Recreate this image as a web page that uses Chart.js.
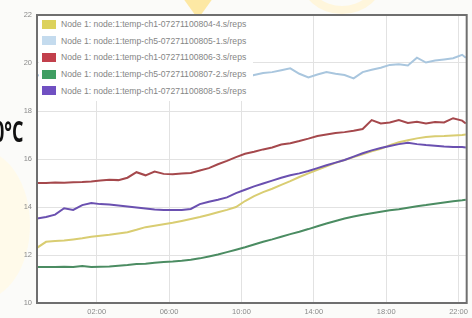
<!DOCTYPE html>
<html>
<head>
<meta charset="utf-8">
<script src="https://cdn.jsdelivr.net/npm/chart.js@4/dist/chart.umd.min.js"></script>
<style>
    html, body { margin: 0; padding: 0; }
    body {
        width: 472px; height: 318px; overflow: hidden; position: relative;
        background: #fbfbf9; font-family: 'Liberation Sans', Arial, sans-serif;
    }
    .mark { position: absolute; }
    #mark-top { left: 180px; top: -6px; width: 36px; height: 20px; background: #fde8a4;
                clip-path: polygon(0 0, 100% 0, 60% 100%, 40% 100%); }
    #mark-arc { left: 300px; top: -60px; width: 84px; height: 74px; border-radius: 50%;
                border: 8px solid #fff6dc; box-sizing: border-box; }
    #mark-left { left: -70px; top: 150px; width: 100px; height: 150px; border-radius: 50%;
                 background: #fffaea; }
    #chart-wrap { position: absolute; left: 0; top: 0; width: 472px; height: 318px; }
    #unit {
        position: absolute; right: 449px; top: 111px; white-space: nowrap;
        font: bold 29px 'Open Sans', sans-serif; color: #111;
        transform: scaleX(0.62); transform-origin: right center;
    }
    #legend {
        position: absolute; left: 39px; top: 16px; width: 214px; height: 85px;
        background: #fff;
    }
    .leg-row { position: absolute; left: 3px; height: 10px; display: flex; align-items: center; }
    .leg-box { width: 14px; height: 9px; margin-right: 5px; }
    .leg-text { font-size: 8.6px; color: #858585; white-space: nowrap; }
</style>
</head>
<body>
<div class="mark" id="mark-top"></div>
<div class="mark" id="mark-arc"></div>
<div class="mark" id="mark-left"></div>
<div id="chart-wrap"><canvas id="chart-temp" width="472" height="318"></canvas></div>
<div id="legend"></div>
<div id="unit">0°C</div>
<script>
// hours since midnight (negative = previous evening)
const HOURS = [-1.3, -0.8, -0.3, 0.2, 0.7, 1.2, 1.7, 2.2, 2.7, 3.2, 3.7, 4.2, 4.7, 5.2, 5.7, 6.2,
    6.7, 7.2, 7.7, 8.2, 8.7, 9.2, 9.7, 10.2, 10.7, 11.2, 11.7, 12.2, 12.7, 13.2, 13.7, 14.2,
    14.7, 15.2, 15.7, 16.2, 16.7, 17.2, 17.7, 18.2, 18.7, 19.2, 19.7, 20.2, 20.7, 21.2, 21.7, 22.2, 22.4];

const TEMP_804 = [12.30, 12.55, 12.58, 12.60, 12.65, 12.70, 12.76, 12.80, 12.84, 12.90, 12.95, 13.05,
    13.16, 13.22, 13.28, 13.34, 13.42, 13.50, 13.58, 13.68, 13.78, 13.88, 14.00, 14.25, 14.45, 14.62,
    14.76, 14.92, 15.08, 15.25, 15.40, 15.55, 15.70, 15.84, 15.96, 16.08, 16.20, 16.32, 16.42, 16.58,
    16.70, 16.78, 16.86, 16.92, 16.95, 16.96, 16.98, 17.00, 17.02];

const TEMP_805 = [19.48, 19.52, 19.46, 19.55, 19.50, 19.44, 19.52, 19.58, 19.50, 19.47, 19.55, 19.60,
    19.52, 19.48, 19.56, 19.50, 19.45, 19.53, 19.58, 19.50, 19.46, 19.52, 19.55, 19.40, 19.50, 19.58,
    19.62, 19.70, 19.78, 19.55, 19.40, 19.52, 19.62, 19.55, 19.50, 19.36, 19.62, 19.72, 19.80, 19.92,
    19.95, 19.90, 20.22, 20.02, 20.10, 20.15, 20.20, 20.34, 20.22];

const TEMP_806 = [15.00, 15.00, 15.02, 15.01, 15.03, 15.04, 15.06, 15.10, 15.14, 15.12, 15.22, 15.45,
    15.32, 15.48, 15.38, 15.36, 15.40, 15.42, 15.52, 15.62, 15.78, 15.92, 16.08, 16.22, 16.30, 16.40,
    16.48, 16.60, 16.66, 16.75, 16.85, 16.96, 17.02, 17.08, 17.12, 17.18, 17.25, 17.62, 17.48, 17.52,
    17.62, 17.50, 17.55, 17.48, 17.54, 17.52, 17.70, 17.60, 17.48];

const TEMP_807 = [11.50, 11.50, 11.50, 11.51, 11.50, 11.54, 11.50, 11.51, 11.52, 11.55, 11.58, 11.62,
    11.64, 11.68, 11.71, 11.73, 11.76, 11.80, 11.86, 11.94, 12.02, 12.12, 12.22, 12.32, 12.44, 12.55,
    12.65, 12.76, 12.87, 12.97, 13.08, 13.20, 13.31, 13.42, 13.52, 13.60, 13.68, 13.74, 13.80, 13.86,
    13.91, 13.97, 14.03, 14.08, 14.14, 14.19, 14.24, 14.28, 14.30];

const TEMP_808 = [13.52, 13.58, 13.68, 13.95, 13.88, 14.08, 14.17, 14.12, 14.10, 14.06, 14.02, 13.98,
    13.94, 13.90, 13.88, 13.87, 13.88, 13.92, 14.12, 14.22, 14.30, 14.40, 14.58, 14.72, 14.86, 14.98,
    15.10, 15.22, 15.32, 15.40, 15.50, 15.62, 15.74, 15.85, 15.96, 16.10, 16.24, 16.36, 16.46, 16.54,
    16.62, 16.68, 16.62, 16.58, 16.55, 16.52, 16.50, 16.50, 16.48];

const SERIES_NAMES = [
    'Node 1: node:1:temp-ch1-07271100804-4.s/reps',
    'Node 1: node:1:temp-ch5-07271100805-1.s/reps',
    'Node 1: node:1:temp-ch1-07271100806-3.s/reps',
    'Node 1: node:1:temp-ch5-07271100807-2.s/reps',
    'Node 1: node:1:temp-ch1-07271100808-5.s/reps',
];

const X_TICK_HOURS = [2, 6, 10, 14, 18, 22];
const X_TICK_LABELS = ['02:00', '06:00', '10:00', '14:00', '18:00', '22:00'];

const LINE_COLORS = ['#d9cd72', '#a9c6de', '#a5484c', '#4b8c62', '#6a50b0'];
const BOX_COLORS = ['#dcd25c', '#c4dbee', '#c2404c', '#3f9e62', '#7050c2'];

const SERIES = [TEMP_804, TEMP_805, TEMP_806, TEMP_807, TEMP_808];

// --- HTML legend inside the plot ---
const legend = document.getElementById('legend');
legend.innerHTML = SERIES_NAMES.map((name, i) => `
    <div class="leg-row" style="top:${3 + i * 16.7}px">
        <div class="leg-box" style="background:${BOX_COLORS[i]}"></div>
        <span class="leg-text">${name}</span>
    </div>
`).join('');

// --- white plot background + dark frame ---
const plotFrame = {
    id: 'plotFrame',
    beforeDraw(chart) {
        const { ctx, chartArea: a } = chart;
        ctx.save();
        ctx.fillStyle = 'rgba(255,255,255,0.9)';
        ctx.fillRect(a.left, a.top, a.right - a.left, a.bottom - a.top);
        ctx.restore();
    },
    afterDatasetsDraw(chart) {
        const { ctx, chartArea: a } = chart;
        ctx.save();
        ctx.strokeStyle = '#6f6f6f';
        ctx.lineWidth = 2;
        ctx.strokeRect(a.left, a.top, a.right - a.left, a.bottom - a.top);
        ctx.restore();
    }
};

new Chart(document.getElementById('chart-temp'), {
    type: 'line',
    data: {
        datasets: SERIES.map((vals, i) => ({
            label: SERIES_NAMES[i],
            data: vals.map((v, k) => ({ x: HOURS[k], y: v })),
            borderColor: LINE_COLORS[i],
            borderWidth: 2,
            pointRadius: 0,
            tension: 0,
            fill: false,
            order: i === 4 ? 0 : 1,
        }))
    },
    options: {
        responsive: false,
        animation: false,
        devicePixelRatio: 1,
        layout: { padding: { left: 0, top: 15, right: 4, bottom: 0 } },
        plugins: { legend: { display: false }, tooltip: { enabled: false } },
        scales: {
            x: {
                type: 'linear',
                min: -1.3,
                max: 22.45,
                afterFit: s => { s.height = 15; },
                afterBuildTicks: s => { s.ticks = X_TICK_HOURS.map(v => ({ value: v })); },
                grid: { color: '#e2e2e2', drawTicks: false },
                border: { display: false },
                ticks: {
                    padding: 4,
                    color: '#8a8a8a',
                    font: { family: 'Liberation Sans', size: 7.5 },
                    maxRotation: 0,
                    callback: v => X_TICK_LABELS[X_TICK_HOURS.indexOf(v)] || ''
                }
            },
            y: {
                min: 10,
                max: 22,
                afterFit: s => { s.width = 37; },
                grid: { color: '#e2e2e2', drawTicks: false },
                border: { display: false },
                ticks: {
                    stepSize: 2,
                    padding: 5,
                    color: '#8a8a8a',
                    font: { family: 'Liberation Sans', size: 7.5 }
                }
            }
        }
    },
    plugins: [plotFrame]
});
</script>
</body>
</html>
